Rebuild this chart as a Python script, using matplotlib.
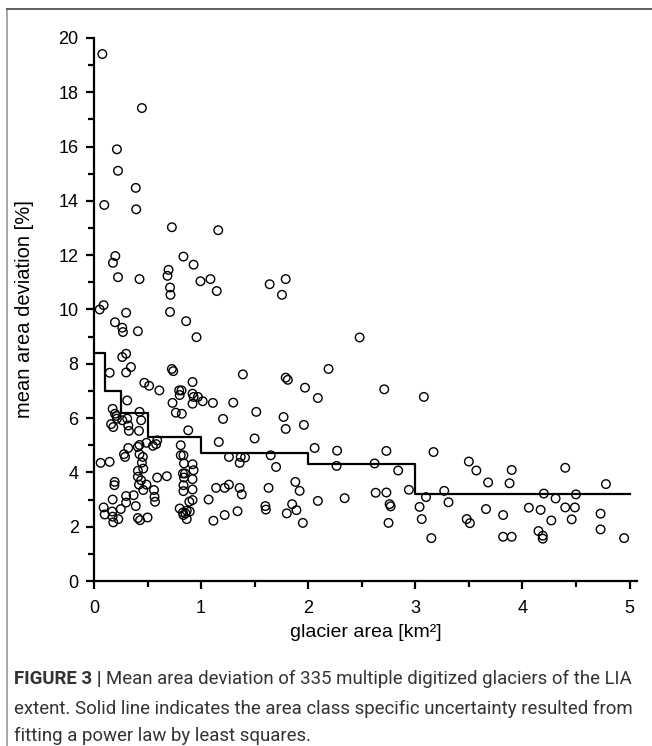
import numpy as np
import matplotlib
matplotlib.use('Agg')
import matplotlib.pyplot as plt
from matplotlib.lines import Line2D

plt.rcParams['font.family'] = ['Liberation Sans', 'DejaVu Sans']

# glacier area [km2] and mean area deviation [%]
area = [0.078, 0.447, 0.214, 0.224, 0.39, 0.394, 0.096, 0.727, 1.16, 0.199,
        0.177, 0.224, 0.425, 0.696, 0.686, 0.71, 0.714, 0.835, 0.93, 0.994,
        1.087, 1.146, 1.64, 1.79, 1.755,
        0.053, 0.09, 0.196, 0.264, 0.27, 0.30, 0.41, 0.71, 0.86, 0.957,
        0.30, 0.264, 0.345, 0.146, 0.30, 0.727, 0.74, 0.47, 0.515, 0.61,
        0.92, 1.39, 1.79, 1.81, 1.97, 2.09, 0.795, 0.817, 0.80, 0.733,
        0.92, 0.93, 0.92, 0.97, 1.015, 1.11, 1.30, 0.764, 0.82, 0.31,
        0.174, 0.196, 0.21, 0.214, 0.264, 0.31, 0.425, 0.44, 0.16, 0.18,
        0.32, 0.326, 0.42, 0.88, 1.205, 1.515, 1.77, 1.79, 1.96, 1.50,
        1.165, 0.49, 0.55, 0.58, 0.59, 0.41, 0.425, 0.32, 0.81, 2.06,
        0.28, 0.29, 0.425, 0.456, 0.447, 0.46, 0.41, 0.41, 0.44, 0.42,
        0.49, 0.46, 0.37, 0.30, 0.30, 0.39, 0.062, 0.146, 0.193, 0.19,
        0.174, 0.09, 0.10, 0.17, 0.174, 0.18, 0.227, 0.25, 0.41, 0.43,
        0.50, 0.56, 0.565, 0.57, 0.59, 0.68, 0.81, 0.835, 0.84, 0.83,
        0.85, 0.84, 0.92, 0.93, 0.92, 0.835, 0.835, 0.92, 0.92, 0.89,
        0.80, 0.83, 0.835, 0.854, 0.866, 0.894, 0.866, 1.07, 1.115, 1.14,
        1.22, 1.26, 1.22, 1.26, 1.36, 1.37, 1.41, 1.36, 1.38, 1.34,
        1.60, 1.605, 1.63, 1.65, 1.70, 1.80, 1.85, 1.88, 1.89, 1.92,
        1.95, 2.09,
        2.48, 2.19, 2.71, 3.08, 2.27, 2.73, 3.17, 2.265, 2.62, 2.84,
        3.50, 3.57, 3.90, 4.40, 3.68, 3.88, 4.78, 2.63, 2.73, 2.94,
        3.27, 4.20, 4.50, 2.34, 3.10, 2.76, 2.77, 3.04, 3.31, 4.31,
        3.66, 4.06, 4.17, 4.40, 4.49, 3.82, 4.73, 2.75, 3.06, 3.48,
        3.51, 4.27, 4.46, 4.15, 4.19, 4.19, 4.73, 3.15, 3.82, 3.90,
        4.95]
deviation = [19.41, 17.42, 15.90, 15.11, 14.48, 13.69, 13.85, 13.03, 12.92, 11.97,
             11.72, 11.19, 11.12, 11.46, 11.24, 10.81, 10.54, 11.95, 11.65, 11.04,
             11.12, 10.68, 10.93, 11.12, 10.54,
             10.0, 10.16, 9.53, 9.33, 9.17, 9.88, 9.2, 9.91, 9.57, 8.98,
             8.37, 8.25, 7.88, 7.67, 7.68, 7.81, 7.73, 7.30, 7.19, 7.02,
             7.33, 7.61, 7.49, 7.41, 7.12, 6.74, 7.02, 7.02, 6.85, 6.56,
             6.90, 6.78, 6.53, 6.78, 6.62, 6.56, 6.57, 6.2, 6.16, 6.65,
             6.34, 6.16, 6.08, 5.98, 5.92, 5.98, 6.23, 5.92, 5.78, 5.67,
             5.73, 5.53, 5.53, 5.55, 5.97, 6.23, 6.04, 5.60, 5.75, 5.25,
             5.12, 5.09, 4.98, 5.04, 5.18, 4.94, 5.01, 4.90, 5.0, 4.90,
             4.67, 4.57, 4.67, 4.57, 4.36, 4.14, 4.06, 3.84, 3.71, 3.55,
             3.55, 3.35, 3.16, 3.13, 2.89, 2.76, 4.35, 4.39, 3.65, 3.53,
             3.0, 2.71, 2.45, 2.56, 2.37, 2.16, 2.28, 2.65, 2.32, 2.24,
             2.34, 3.35, 3.10, 2.92, 3.81, 3.86, 4.63, 4.63, 4.33, 3.96,
             3.96, 3.81, 4.30, 4.08, 3.75, 3.53, 3.31, 3.37, 2.98, 2.92,
             2.67, 2.52, 2.43, 2.49, 2.59, 2.56, 2.28, 3.0, 2.22, 3.43,
             3.43, 3.55, 2.43, 4.57, 4.35, 4.57, 4.55, 3.43, 3.19, 2.57,
             2.76, 2.63, 3.43, 4.63, 4.20, 2.49, 2.83, 3.65, 2.61, 3.32,
             2.14, 2.95,
             8.97, 7.81, 7.06, 6.78, 4.80, 4.79, 4.75, 4.24, 4.33, 4.07,
             4.40, 4.07, 4.09, 4.17, 3.63, 3.60, 3.57, 3.25, 3.26, 3.36,
             3.32, 3.22, 3.19, 3.05, 3.09, 2.83, 2.75, 2.73, 2.90, 3.04,
             2.65, 2.70, 2.62, 2.71, 2.71, 2.43, 2.48, 2.14, 2.28, 2.28,
             2.13, 2.23, 2.27, 1.84, 1.67, 1.56, 1.90, 1.58, 1.63, 1.63,
             1.58]

# area class limits and class uncertainty (solid step line)
class_edges = [0, 0.1, 0.25, 0.5, 1, 2, 3, 5]
class_values = [8.4, 7.0, 6.2, 5.3, 4.7, 4.3, 3.2]

caption_lines = ['Mean area deviation of 335 multiple digitized glaciers of the LIA',
                 'extent. Solid line indicates the area class specific uncertainty resulted from',
                 'fitting a power law by least squares.']

fig = plt.figure(figsize=(6.52, 7.46), dpi=100)

# panel frame (left and top edges)
fig.add_artist(Line2D([7 / 652, 7 / 652], [0, 1 - 9 / 746], transform=fig.transFigure,
                      color='#9a9a9a', lw=1.2))
fig.add_artist(Line2D([7 / 652, 1], [1 - 9 / 746, 1 - 9 / 746], transform=fig.transFigure,
                      color='#444444', lw=1.2))

ax = fig.add_axes([94 / 652, 165 / 746, 543 / 652, 543 / 746])

ax.scatter(area, deviation, s=38, facecolors='none', edgecolors='black', linewidths=1.0,
           zorder=3, clip_on=False)

step_y = class_values + [class_values[-1]]
ax.step(class_edges, step_y, where='post', color='black', lw=1.6, zorder=4)

ax.set_xlim(0, 5.07)
ax.set_ylim(0, 20)
ax.set_xticks([0, 1, 2, 3, 4, 5])
ax.set_xticks([0.5, 1.5, 2.5, 3.5, 4.5], minor=True)
ax.set_yticks(range(0, 21, 2))
ax.set_yticks(range(1, 20, 2), minor=True)

for side in ['top', 'right']:
    ax.spines[side].set_visible(False)
for side in ['left', 'bottom']:
    ax.spines[side].set_linewidth(1.6)

ax.tick_params(which='major', direction='out', length=6, width=1.6, labelsize=13, pad=5)
ax.tick_params(which='minor', direction='out', length=4, width=1.6)
ax.tick_params(axis='x', pad=8)

ax.set_xlabel('glacier area [km²]', fontsize=14, labelpad=5)
ax.set_ylabel('mean area deviation [%]', fontsize=14.5, labelpad=18)

# caption, sized so the second line spans the panel width like the original
cap_color = '#333333'
cap_font = ['Roboto', 'DejaVu Sans']
probe = fig.text(0, 0, caption_lines[1], fontsize=14, family=cap_font)
fig.canvas.draw()
cap_size = 14 * 625 / probe.get_window_extent().width
probe.remove()

bold = fig.text(14 / 652, 1 - 679 / 746, 'FIGURE 3 |', fontsize=cap_size, fontweight='bold',
                family=cap_font, color=cap_color, va='center')
fig.canvas.draw()
bb = bold.get_window_extent()
fig.text((bb.x1 + 5) / 652, 1 - 679 / 746, caption_lines[0],
         fontsize=cap_size, family=cap_font, color=cap_color, va='center')
fig.text(14 / 652, 1 - 709 / 746, caption_lines[1],
         fontsize=cap_size, family=cap_font, color=cap_color, va='center')
fig.text(14 / 652, 1 - 736 / 746, caption_lines[2],
         fontsize=cap_size, family=cap_font, color=cap_color, va='center')

fig.savefig('out.png', dpi=100)
